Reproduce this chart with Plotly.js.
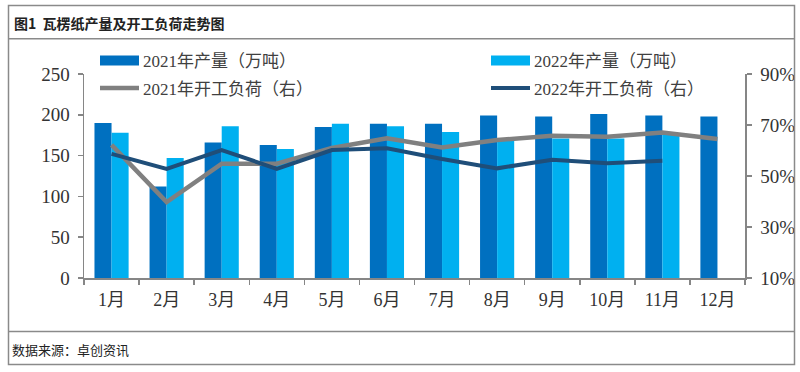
<!DOCTYPE html>
<html><head><meta charset="utf-8">
<script src="https://cdn.plot.ly/plotly-3.0.1.min.js"></script>
<style>html,body{margin:0;padding:0;background:#fff;}#chart{width:800px;height:372px;}</style>
</head><body><div id="chart"></div>
<script>
const months = ['1月','2月','3月','4月','5月','6月','7月','8月','9月','10月','11月','12月'];
const output2021 = [190, 112, 166, 163, 185, 189, 189, 199, 198, 201, 199, 198];
const output2022 = [178, 147, 186, 158, 189, 186, 179, 169, 171, 171, 176, null];
const load2021 = [62.2, 39.8, 54.8, 54.8, 61.0, 64.8, 61.2, 64.1, 65.8, 65.4, 67.1, 64.5];
const load2022 = [58.7, 52.8, 60.2, 52.8, 60.2, 60.9, 56.7, 53.0, 56.4, 55.0, 56.0, null];
const seriesNames = ['2021年产量（万吨）', '2022年产量（万吨）', '2021年开工负荷（右）', '2022年开工负荷（右）'];
const leftTicks = [0, 50, 100, 150, 200, 250];
const rightTicks = [10, 30, 50, 70, 90];
const rightTickText = ['10%', '30%', '50%', '70%', '90%'];
const titleText = '图1  瓦楞纸产量及开工负荷走势图';
const sourceText = '数据来源：卓创资讯';

const C_DARK = '#0070C0', C_LIGHT = '#00B0F0', C_GRAY = '#808080', C_NAVY = '#1F4E79';
const FONT = 'Liberation Serif, Noto Sans CJK SC, serif';
const AXC = '#868686';

const W = 800, H = 372, ML = 84, MR = 55, MT = 74, MB = 94;
const PW = W - ML - MR, PH = H - MT - MB;
const px = x => (x - ML) / PW;
const py = y => (H - MB - y) / PH;

const traces = [
  {type: 'bar', x: months, y: output2021, name: seriesNames[0], marker: {color: C_DARK}, yaxis: 'y'},
  {type: 'bar', x: months, y: output2022, name: seriesNames[1], marker: {color: C_LIGHT}, yaxis: 'y'},
  {type: 'scatter', mode: 'lines', x: months, y: load2021, name: seriesNames[2], line: {color: C_GRAY, width: 4.5}, yaxis: 'y2'},
  {type: 'scatter', mode: 'lines', x: months, y: load2022, name: seriesNames[3], line: {color: C_NAVY, width: 4}, yaxis: 'y2'}
];

const lineStyle = {color: '#8a8a8a', width: 1.5};
const shapes = [
  {type: 'rect', xref: 'paper', yref: 'paper', x0: px(8.5), x1: px(794.5), y0: py(364.5), y1: py(5.5), line: lineStyle},
  {type: 'line', xref: 'paper', yref: 'paper', x0: px(8.5), x1: px(794.5), y0: py(38.7), y1: py(38.7), line: lineStyle},
  {type: 'line', xref: 'paper', yref: 'paper', x0: px(8.5), x1: px(794.5), y0: py(331.5), y1: py(331.5), line: lineStyle},
  {type: 'rect', xref: 'paper', yref: 'paper', x0: px(100), x1: px(139), y0: py(65.5), y1: py(55.5), line: {width: 0}, fillcolor: C_DARK},
  {type: 'rect', xref: 'paper', yref: 'paper', x0: px(491), x1: px(530), y0: py(65.5), y1: py(55.5), line: {width: 0}, fillcolor: C_LIGHT},
  {type: 'line', xref: 'paper', yref: 'paper', x0: px(100), x1: px(139), y0: py(88), y1: py(88), line: {color: C_GRAY, width: 4.5}},
  {type: 'line', xref: 'paper', yref: 'paper', x0: px(491), x1: px(530), y0: py(88), y1: py(88), line: {color: C_NAVY, width: 4}}
];

const legFont = {family: FONT, size: 17, color: '#404040'};
const annotations = [
  {xref: 'paper', yref: 'paper', x: px(12), y: py(23), xanchor: 'left', yanchor: 'middle', showarrow: false,
   text: '<b>' + titleText + '</b>', font: {family: 'Noto Sans CJK SC, sans-serif', size: 14, color: '#222'}},
  {xref: 'paper', yref: 'paper', x: px(10), y: py(349), xanchor: 'left', yanchor: 'middle', showarrow: false,
   text: sourceText, font: {family: 'Noto Sans CJK SC, sans-serif', size: 13, color: '#222'}},
  {xref: 'paper', yref: 'paper', x: px(141), y: py(61), xanchor: 'left', yanchor: 'middle', showarrow: false, text: seriesNames[0], font: legFont},
  {xref: 'paper', yref: 'paper', x: px(532), y: py(61), xanchor: 'left', yanchor: 'middle', showarrow: false, text: seriesNames[1], font: legFont},
  {xref: 'paper', yref: 'paper', x: px(141), y: py(89), xanchor: 'left', yanchor: 'middle', showarrow: false, text: seriesNames[2], font: legFont},
  {xref: 'paper', yref: 'paper', x: px(532), y: py(89), xanchor: 'left', yanchor: 'middle', showarrow: false, text: seriesNames[3], font: legFont}
];

const tickFont = {family: FONT, size: 19, color: '#333'};
const layout = {
  width: W, height: H,
  margin: {l: ML, r: MR, t: MT, b: MB, pad: 0},
  paper_bgcolor: '#fff', plot_bgcolor: '#fff',
  showlegend: false,
  barmode: 'group', bargap: 0.38, bargroupgap: 0,
  xaxis: {type: 'category', range: [-0.5, 11.5], showline: true, linecolor: AXC, linewidth: 1.5,
          ticks: 'outside', tickson: 'boundaries', ticklen: 5, tickcolor: AXC, tickwidth: 1.5,
          showgrid: false, zeroline: false, tickfont: {family: FONT, size: 18, color: '#333'}, ticklabelstandoff: 5},
  yaxis: {range: [0, 250], tickvals: leftTicks, showline: true, linecolor: AXC, linewidth: 1.5,
          ticks: 'outside', ticklen: 5, tickcolor: AXC, tickwidth: 1.5, showgrid: false, zeroline: false,
          tickfont: tickFont, ticklabelstandoff: 4},
  yaxis2: {overlaying: 'y', side: 'right', range: [10, 90], tickmode: 'array', tickvals: rightTicks, ticktext: rightTickText,
           showline: true, linecolor: AXC, linewidth: 1.5, ticks: 'outside', ticklen: 5, tickcolor: AXC, tickwidth: 1.5,
           showgrid: false, zeroline: false, tickfont: tickFont, ticklabelstandoff: 5},
  shapes: shapes,
  annotations: annotations
};

Plotly.newPlot('chart', traces, layout, {displayModeBar: false, staticPlot: true});
</script>
</body></html>
